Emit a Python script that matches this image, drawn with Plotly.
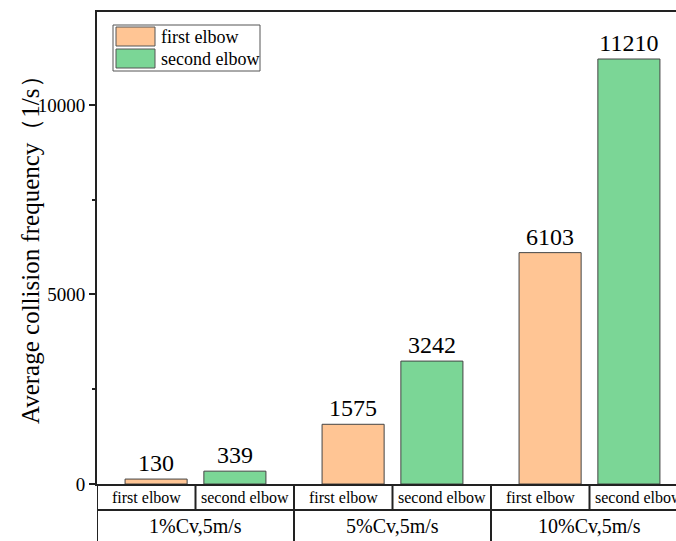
import plotly.graph_objects as go

groups = ["1%Cv,5m/s", "5%Cv,5m/s", "10%Cv,5m/s"]
series_names = ["first elbow", "second elbow"]
first_elbow = [130, 1575, 6103]
second_elbow = [339, 3242, 11210]
colors = ["#FFC594", "#7BD696"]
ytick_vals = [0, 5000, 10000]
ytick_text = ["0", "5000", "10000"]
y_title = "Average collision frequency（1/s）"

W, H = 676, 541
ml, mr, mt, mb = 97, 0, 12, 57
plot_h = H - mt - mb
offset = 0.2
bar_w = 0.315
x_max = (W - ml) / 197.0

FONT = "Liberation Serif"

fig = go.Figure()
for k, (name, vals) in enumerate(zip(series_names, [first_elbow, second_elbow])):
    xs = [i + 0.5 + (-offset if k == 0 else offset) for i in range(len(groups))]
    fig.add_trace(go.Bar(
        x=xs, y=vals, width=bar_w, name=name,
        marker=dict(color=colors[k], line=dict(color="#444444", width=1)),
        text=[str(v) for v in vals], textposition="outside",
        textfont=dict(family=FONT, size=24, color="black"),
        outsidetextfont=dict(family=FONT, size=24, color="black"),
        constraintext="none", cliponaxis=False, showlegend=False,
    ))

shapes = []
annotations = []
def py(pix):
    return (H - mb - pix) / plot_h
def px(pix):
    return (pix - ml) / (W - ml - mr)

row1 = py(510)
bottom = py(541)
shapes.append(dict(type="line", xref="x", yref="paper", x0=0, x1=3, y0=row1, y1=row1,
                   line=dict(color="#222", width=2)))
shapes.append(dict(type="line", xref="x", yref="paper", x0=0, x1=0, y0=0, y1=bottom,
                   line=dict(color="#222", width=2)))
for i in range(len(groups)):
    shapes.append(dict(type="line", xref="x", yref="paper", x0=i + 0.5, x1=i + 0.5, y0=0, y1=row1,
                       line=dict(color="#222", width=2)))
    if i > 0:
        shapes.append(dict(type="line", xref="x", yref="paper", x0=i, x1=i, y0=0, y1=bottom,
                           line=dict(color="#222", width=2)))
    for k, name in enumerate(series_names):
        annotations.append(dict(x=i + 0.25 + 0.5 * k, y=py(497), xref="x", yref="paper",
                                text=name, showarrow=False, xanchor="center", yanchor="middle",
                                font=dict(family=FONT, size=16, color="black")))
    annotations.append(dict(x=i + 0.5, y=py(526), xref="x", yref="paper",
                            text=groups[i], showarrow=False, xanchor="center", yanchor="middle",
                            font=dict(family=FONT, size=20, color="black")))

# y-axis title
annotations.append(dict(x=px(30), y=py(244), xref="paper", yref="paper", text=y_title,
                        textangle=-90, showarrow=False, xanchor="center", yanchor="middle",
                        font=dict(family=FONT, size=25, color="black")))

shapes.append(dict(type="rect", xref="paper", yref="paper", x0=px(113), x1=px(260),
                   y0=py(71), y1=py(25), line=dict(color="#555", width=1), fillcolor="white"))
for k, name in enumerate(series_names):
    y0, y1 = 27 + 22 * k, 46 + 22 * k
    shapes.append(dict(type="rect", xref="paper", yref="paper", x0=px(116), x1=px(155),
                       y0=py(y1), y1=py(y0), line=dict(color="#555", width=1),
                       fillcolor=colors[k]))
    annotations.append(dict(x=px(159), y=py((y0 + y1) / 2), xref="paper", yref="paper",
                            text=name, showarrow=False, xanchor="left", yanchor="middle",
                            font=dict(family=FONT, size=18, color="black")))

fig.update_layout(
    width=W, height=H,
    margin=dict(l=ml, r=mr, t=mt, b=mb),
    plot_bgcolor="white", paper_bgcolor="white",
    font=dict(family=FONT, color="black"),
    shapes=shapes, annotations=annotations,
    xaxis=dict(range=[0, x_max], showticklabels=False, ticks="", showgrid=False,
               zeroline=False, showline=True, mirror=True, linecolor="#222", linewidth=2),
    yaxis=dict(range=[0, 12450], tickvals=ytick_vals, ticktext=ytick_text,
               ticks="outside", ticklen=6, tickwidth=1.5, tickcolor="#222",
               minor=dict(dtick=2500, ticks="outside", ticklen=3, tickwidth=1.5, tickcolor="#222"),
               showgrid=False, zeroline=False, showline=True, linecolor="#222", linewidth=2,
               tickfont=dict(family=FONT, size=19, color="black")),
)

fig.write_html("out.html")
